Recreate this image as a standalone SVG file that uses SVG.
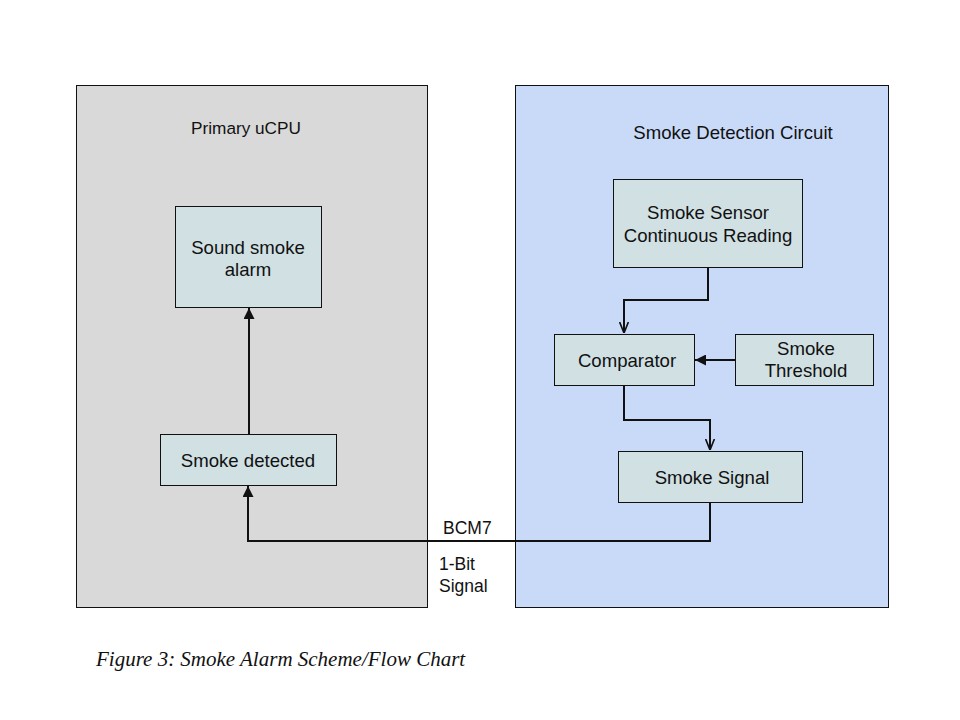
<svg xmlns="http://www.w3.org/2000/svg" width="960" height="720" viewBox="0 0 960 720">
<style>
.t{font-family:"Liberation Sans",Arial,sans-serif;font-size:18.6px;fill:#111;text-anchor:middle}
.l{font-family:"Liberation Sans",Arial,sans-serif;font-size:17.5px;fill:#111}
.box{fill:#d0e0e3;stroke:#111;stroke-width:1}
.c{fill:none;stroke:#111;stroke-width:2}
</style>
<defs>
<marker id="a" viewBox="0 0 10 10" refX="10" refY="5" markerWidth="5.5" markerHeight="5.5" orient="auto" markerUnits="strokeWidth"><path d="M0,0L10,5L0,10z" fill="#111"/></marker>
<marker id="v" viewBox="0 0 10 10" refX="10" refY="5" markerWidth="5.5" markerHeight="5.5" orient="auto" markerUnits="strokeWidth"><path d="M0,1L10,5L0,9" fill="none" stroke="#111" stroke-width="1.5"/></marker>
</defs>
<rect width="960" height="720" fill="#fff"/>
<g id="primary"><rect x="76.5" y="85.5" width="351" height="522" fill="#d9d9d9" stroke="#111" stroke-width="1"/><text class="t" x="246" y="134" style="font-size:17.2px">Primary uCPU</text></g>
<g id="circuit"><rect x="515.5" y="85.5" width="373" height="522" fill="#c9daf8" stroke="#111" stroke-width="1"/><text class="t" x="733" y="139">Smoke Detection Circuit</text></g>
<g id="alarm"><rect class="box" x="175.5" y="206.5" width="146" height="101"/><text class="t" x="248" y="254">Sound smoke</text><text class="t" x="248" y="276">alarm</text></g>
<g id="detected"><rect class="box" x="160.5" y="434.5" width="176" height="51"/><text class="t" x="248" y="467">Smoke detected</text></g>
<g id="sensor"><rect class="box" x="613.5" y="179.5" width="189" height="88"/><text class="t" x="708" y="219">Smoke Sensor</text><text class="t" x="708" y="242">Continuous Reading</text></g>
<g id="comparator"><rect class="box" x="554.5" y="334.5" width="140" height="51"/><text class="t" x="627" y="367">Comparator</text></g>
<g id="threshold"><rect class="box" x="735.5" y="334.5" width="138" height="51"/><text class="t" x="806" y="355">Smoke</text><text class="t" x="806" y="377">Threshold</text></g>
<g id="signal"><rect class="box" x="618.5" y="451.5" width="184" height="51"/><text class="t" x="712" y="484">Smoke Signal</text></g>
<g id="connectors">
<path class="c" d="M249,434V308" marker-end="url(#a)"/>
<path class="c" d="M708,268V300H624V333" marker-end="url(#v)"/>
<path class="c" d="M624,386V420H710V450" marker-end="url(#v)"/>
<path class="c" d="M735,360H695" marker-end="url(#a)"/>
<path class="c" d="M710,503V541H248V486" marker-end="url(#a)"/>
</g>
<text class="l" x="443" y="534">BCM7</text>
<text class="l" x="439" y="570">1-Bit</text>
<text class="l" x="439" y="592">Signal</text>
<text x="96" y="666" font-family="Liberation Serif,'Times New Roman',serif" font-style="italic" font-size="21" fill="#111">Figure 3: Smoke Alarm Scheme/Flow Chart</text>
</svg>
